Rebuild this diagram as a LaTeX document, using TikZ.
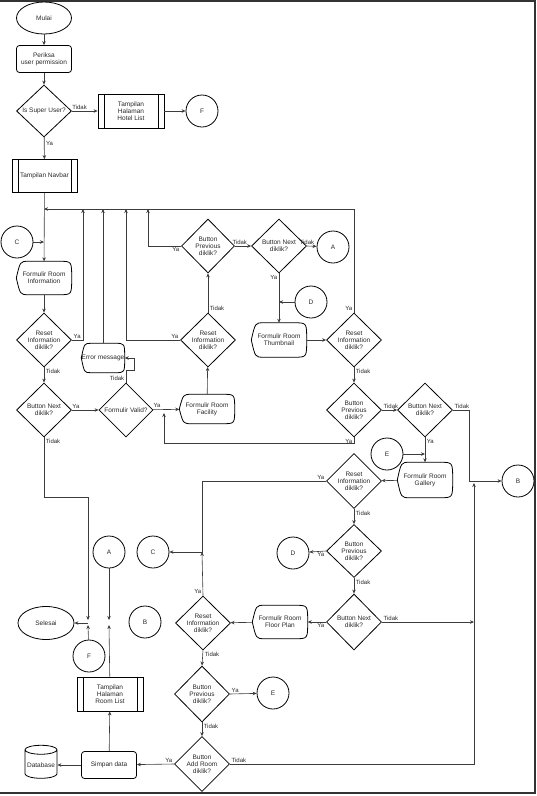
\documentclass[tikz,border=0pt]{standalone}
\usepackage{fontspec}
\setsansfont{Liberation Sans}
\usetikzlibrary{shapes.geometric,arrows.meta,calc}
\definecolor{garis}{RGB}{60,60,60}
\definecolor{teks}{RGB}{40,40,40}
\begin{document}
\begin{tikzpicture}[x=1pt,y=-1pt,
        font=\sffamily\fontsize{6.5}{7}\selectfont,
        every node/.append style={text=teks},
        base/.style={draw=black,line width=0.8pt,inner sep=0pt,align=center},
        term/.style={base,ellipse,minimum width=55pt,minimum height=32pt},
        proc/.style={base,rounded corners=3pt,minimum width=55pt,minimum height=27pt},
        dec/.style={base,diamond,minimum width=55pt,minimum height=54pt},
        pred/.style={base,minimum width=66pt,minimum height=34pt,
                     append after command={\pgfextra{\draw[line width=0.8pt]
                       ([xshift=6.5pt]\tikzlastnode.north west) -- ([xshift=6.5pt]\tikzlastnode.south west)
                       ([xshift=-6.5pt]\tikzlastnode.north east) -- ([xshift=-6.5pt]\tikzlastnode.south east);}}},
        disp/.style={inner sep=0pt,align=center,minimum width=55pt,minimum height=33pt,
                     append after command={\pgfextra{\draw[line width=0.8pt]
                       (\tikzlastnode.west)
                       .. controls ($(\tikzlastnode.north west)!.07!(\tikzlastnode.north east)$)
                       .. ($(\tikzlastnode.north west)!.22!(\tikzlastnode.north east)$)
                       -- ($(\tikzlastnode.north west)!.78!(\tikzlastnode.north east)$)
                       .. controls (\tikzlastnode.north east) .. (\tikzlastnode.east)
                       .. controls (\tikzlastnode.south east) .. ($(\tikzlastnode.south west)!.78!(\tikzlastnode.south east)$)
                       -- ($(\tikzlastnode.south west)!.22!(\tikzlastnode.south east)$)
                       .. controls ($(\tikzlastnode.south west)!.07!(\tikzlastnode.south east)$)
                       .. (\tikzlastnode.west) -- cycle;}}},
        conn/.style={base,circle,minimum size=32pt},
        db/.style={base,cylinder,shape border rotate=90,aspect=0.3,inner sep=1pt,
                   minimum width=32pt,minimum height=33pt},
        arr/.style={-{Stealth[length=4pt,width=3.5pt]},line width=0.6pt,draw=garis},
        lbl/.style={font=\sffamily\fontsize{6}{7}\selectfont,inner sep=1.5pt}]
        \useasboundingbox (0,0) rectangle (537,796);
        \draw[line width=1.5pt,black!80] (0,1) -- (535,1) -- (535,793) -- (0,793);

        \node[term] (mulai) at (44,18) {Mulai};
        \node[proc] (periksa) at (44,59) {Periksa\\user permission};
        \node[dec,minimum height=52pt] (super) at (44,111) {Is Super User?};
        \node[pred] (hotel) at (131,111) {Tampilan\\Halaman\\Hotel List};
        \node[conn] (f1) at (202,111) {F};
        \node[pred,minimum width=65pt,minimum height=33pt] (navbar) at (44.5,176) {Tampilan Navbar};
        \node[conn] (c1) at (17,242) {C};
        \node[disp] (info) at (44,278) {Formulir Room\\Information};
        \node[dec] (resetI) at (44,340) {Reset\\Information\\diklik?};
        \node[dec] (nextI) at (44,410) {Button Next\\diklik?};
        \node[dec,minimum width=54pt] (valid) at (126,410) {Formulir Valid?};
        \node[disp,minimum width=43pt,minimum height=29pt] (err) at (103,358) {Error message};
        \node[disp,minimum height=29pt] (fac) at (207,409) {Formulir Room\\Facility};
        \node[dec] (resetF) at (208,340) {Reset\\Information\\diklik?};
        \node[dec,minimum width=53pt] (prevF) at (208,246) {Button\\Previous\\diklik?};
        \node[dec] (nextF) at (279,246) {Button Next\\diklik?};
        \node[conn] (a1) at (333,247) {A};
        \node[conn] (d1) at (311,302) {D};
        \node[disp,minimum height=34pt] (thumb) at (279,340) {Formulir Room\\Thumbnail};
        \node[dec] (resetT) at (354,340) {Reset\\Information\\diklik?};
        \node[dec] (prevT) at (354,410) {Button\\Previous\\diklik?};
        \node[dec] (nextT) at (425,410) {Button Next\\diklik?};
        \node[conn] (b1) at (518,481) {B};
        \node[conn] (e1) at (387,454) {E};
        \node[disp,minimum height=35pt] (gal) at (425,480) {Formulir Room\\Gallery};
        \node[dec,minimum height=55pt] (resetG) at (354,481) {Reset\\Information\\diklik?};
        \node[conn] (c2) at (153,552) {C};
        \node[conn] (a2) at (109,552) {A};
        \node[dec,minimum height=53pt] (prevG) at (354,551) {Button\\Previous\\diklik?};
        \node[conn] (d2) at (293,553) {D};
        \node[dec,minimum height=56pt] (nextG) at (354,622) {Button Next\\diklik?};
        \node[disp] (floor) at (280,622) {Formulir Room\\Floor Plan};
        \node[dec] (resetFl) at (203,623) {Reset\\Information\\diklik?};
        \node[term,minimum width=56pt,minimum height=33pt] (selesai) at (46,623) {Selesai};
        \node[conn] (f2) at (89,656) {F};
        \node[conn] (b2) at (145,622) {B};
        \node[dec,minimum height=56pt] (prevFl) at (202,694) {Button\\Previous\\diklik?};
        \node[conn] (e2) at (273,693) {E};
        \node[dec,minimum height=55pt] (addR) at (202,764) {Button\\Add Room\\diklik?};
        \node[pred] (roomlist) at (110,694) {Tampilan\\Halaman\\Room List};
        \node[proc] (simpan) at (109,765) {Simpan data};
        \node[db] (db) at (41,765) {Database};

        \coordinate (t0) at (44,209);
        \coordinate (tI) at (83,209);
        \coordinate (tE) at (103,209);
        \coordinate (tF) at (126,209);
        \coordinate (tP) at (148,209);
        \coordinate (jC1) at (44,242);
        \coordinate (jV) at (164,413);
        \coordinate (jD) at (279,302);
        \coordinate (jE) at (425,454);
        \coordinate (jB) at (469,481);
        \coordinate (jB2) at (474,483);
        \coordinate (jB3) at (474,622);
        \coordinate (jC) at (202,552);
        \coordinate (jS) at (88,623);
        \coordinate (jS1) at (88,620);
        \coordinate (jS2) at (88,625);
        \coordinate (jR1) at (109,620);
        \coordinate (jR2) at (109,625);

        \draw[arr] (mulai) -- (periksa);
        \draw[arr] (periksa) -- (super);
        \draw[arr] (super) -- node[lbl,pos=0.3,above]{Tidak} (hotel);
        \draw[arr] (hotel) -- (f1);
        \draw[arr] (super) -- node[lbl,pos=0.3,right]{Ya} (navbar);
        \draw[arr] (navbar) -- (info);
        \draw[arr] (c1) -- (jC1);
        \draw[arr] (info) -- (resetI);
        \draw[arr] (resetI.east) node[lbl,above right]{Ya} -| (tI);
        \draw[arr] (resetI.south) node[lbl,below right]{Tidak} -- (nextI.north);
        \draw[arr] (nextI) -- node[lbl,pos=0.15,above]{Ya} (valid);
        \draw[arr] (nextI.south) node[lbl,below right]{Tidak} -- ++(0,60) -| (jS1);
        \draw[arr] (f2) -- (jS2);
        \draw[arr] (jS) -- (selesai);
        \draw[arr] (a2) -- (jR1);
        \draw[arr] (roomlist) -- (jR2);
        \draw[arr] (valid.north) node[lbl,above left]{Tidak} -- ++(0,-12) -| ([xshift=10pt]err.east) -- (err.east);
        \draw[arr] (err) -- (tE);
        \draw[arr] (valid) -- node[lbl,pos=0.15,above]{Ya} (fac);
        \draw[arr] (fac) -- (resetF);
        \draw[arr] (resetF.north) node[lbl,above right]{Tidak} -- (prevF.south);
        \draw[arr] (resetF.west) node[lbl,above left]{Ya} -| (tF);
        \draw[arr] (prevF.west) node[lbl,below left]{Ya} -| (tP);
        \draw[arr] (prevF) -- node[lbl,pos=0.3,above]{Tidak} (nextF);
        \draw[arr] (nextF.east) node[lbl,above]{Tidak} -- (a1);
        \draw[arr] (nextF.south) node[lbl,below left]{Ya} -- (thumb.north);
        \draw[arr] (d1) -- (jD);
        \draw[arr] (thumb) -- (resetT);
        \draw[arr] (resetT.north) node[lbl,above left]{Ya} |- (t0);
        \draw[arr] (resetT.south) node[lbl,below right]{Tidak} -- (prevT.north);
        \draw[arr] (prevT.south) node[lbl,below left]{Ya} -- ++(0,6) -| (jV);
        \draw[arr] (prevT.east) node[lbl,above right]{Tidak} -- (nextT.west);
        \draw[arr] (nextT.east) node[lbl,above right]{Tidak} -| (jB) -- (b1);
        \draw[arr] (nextT.south) node[lbl,below right]{Ya} -- (gal.north);
        \draw[arr] (e1) -- (jE);
        \draw[arr] (gal) -- (resetG);
        \draw[arr] (resetG.west) node[lbl,above left]{Ya} -| (jC) -- (c2);
        \draw[arr] (resetFl.north) node[lbl,above left]{Ya} -- (jC);
        \draw[arr] (resetG.south) node[lbl,below right]{Tidak} -- (prevG.north);
        \draw[arr] (prevG.west) node[lbl,below left]{Ya} -- (d2);
        \draw[arr] (prevG.south) node[lbl,below right]{Tidak} -- (nextG.north);
        \draw[arr] (nextG.west) node[lbl,below left]{Ya} -- (floor);
        \draw[arr] (nextG.east) node[lbl,above right]{Tidak} -- (jB3);
        \draw[arr] (floor) -- (resetFl);
        \draw[arr] (resetFl.south) node[lbl,below right]{Tidak} -- (prevFl.north);
        \draw[arr] (prevFl.east) node[lbl,above right]{Ya} -- (e2);
        \draw[arr] (prevFl.south) node[lbl,below right]{Tidak} -- (addR.north);
        \draw[arr] (addR.east) node[lbl,above right]{Tidak} -| (jB2);
        \draw[arr] (addR.west) node[lbl,above left]{Ya} -- (simpan);
        \draw[arr] (simpan) -- (db);
        \draw[arr] (simpan) -- (roomlist);
\end{tikzpicture}
\end{document}
